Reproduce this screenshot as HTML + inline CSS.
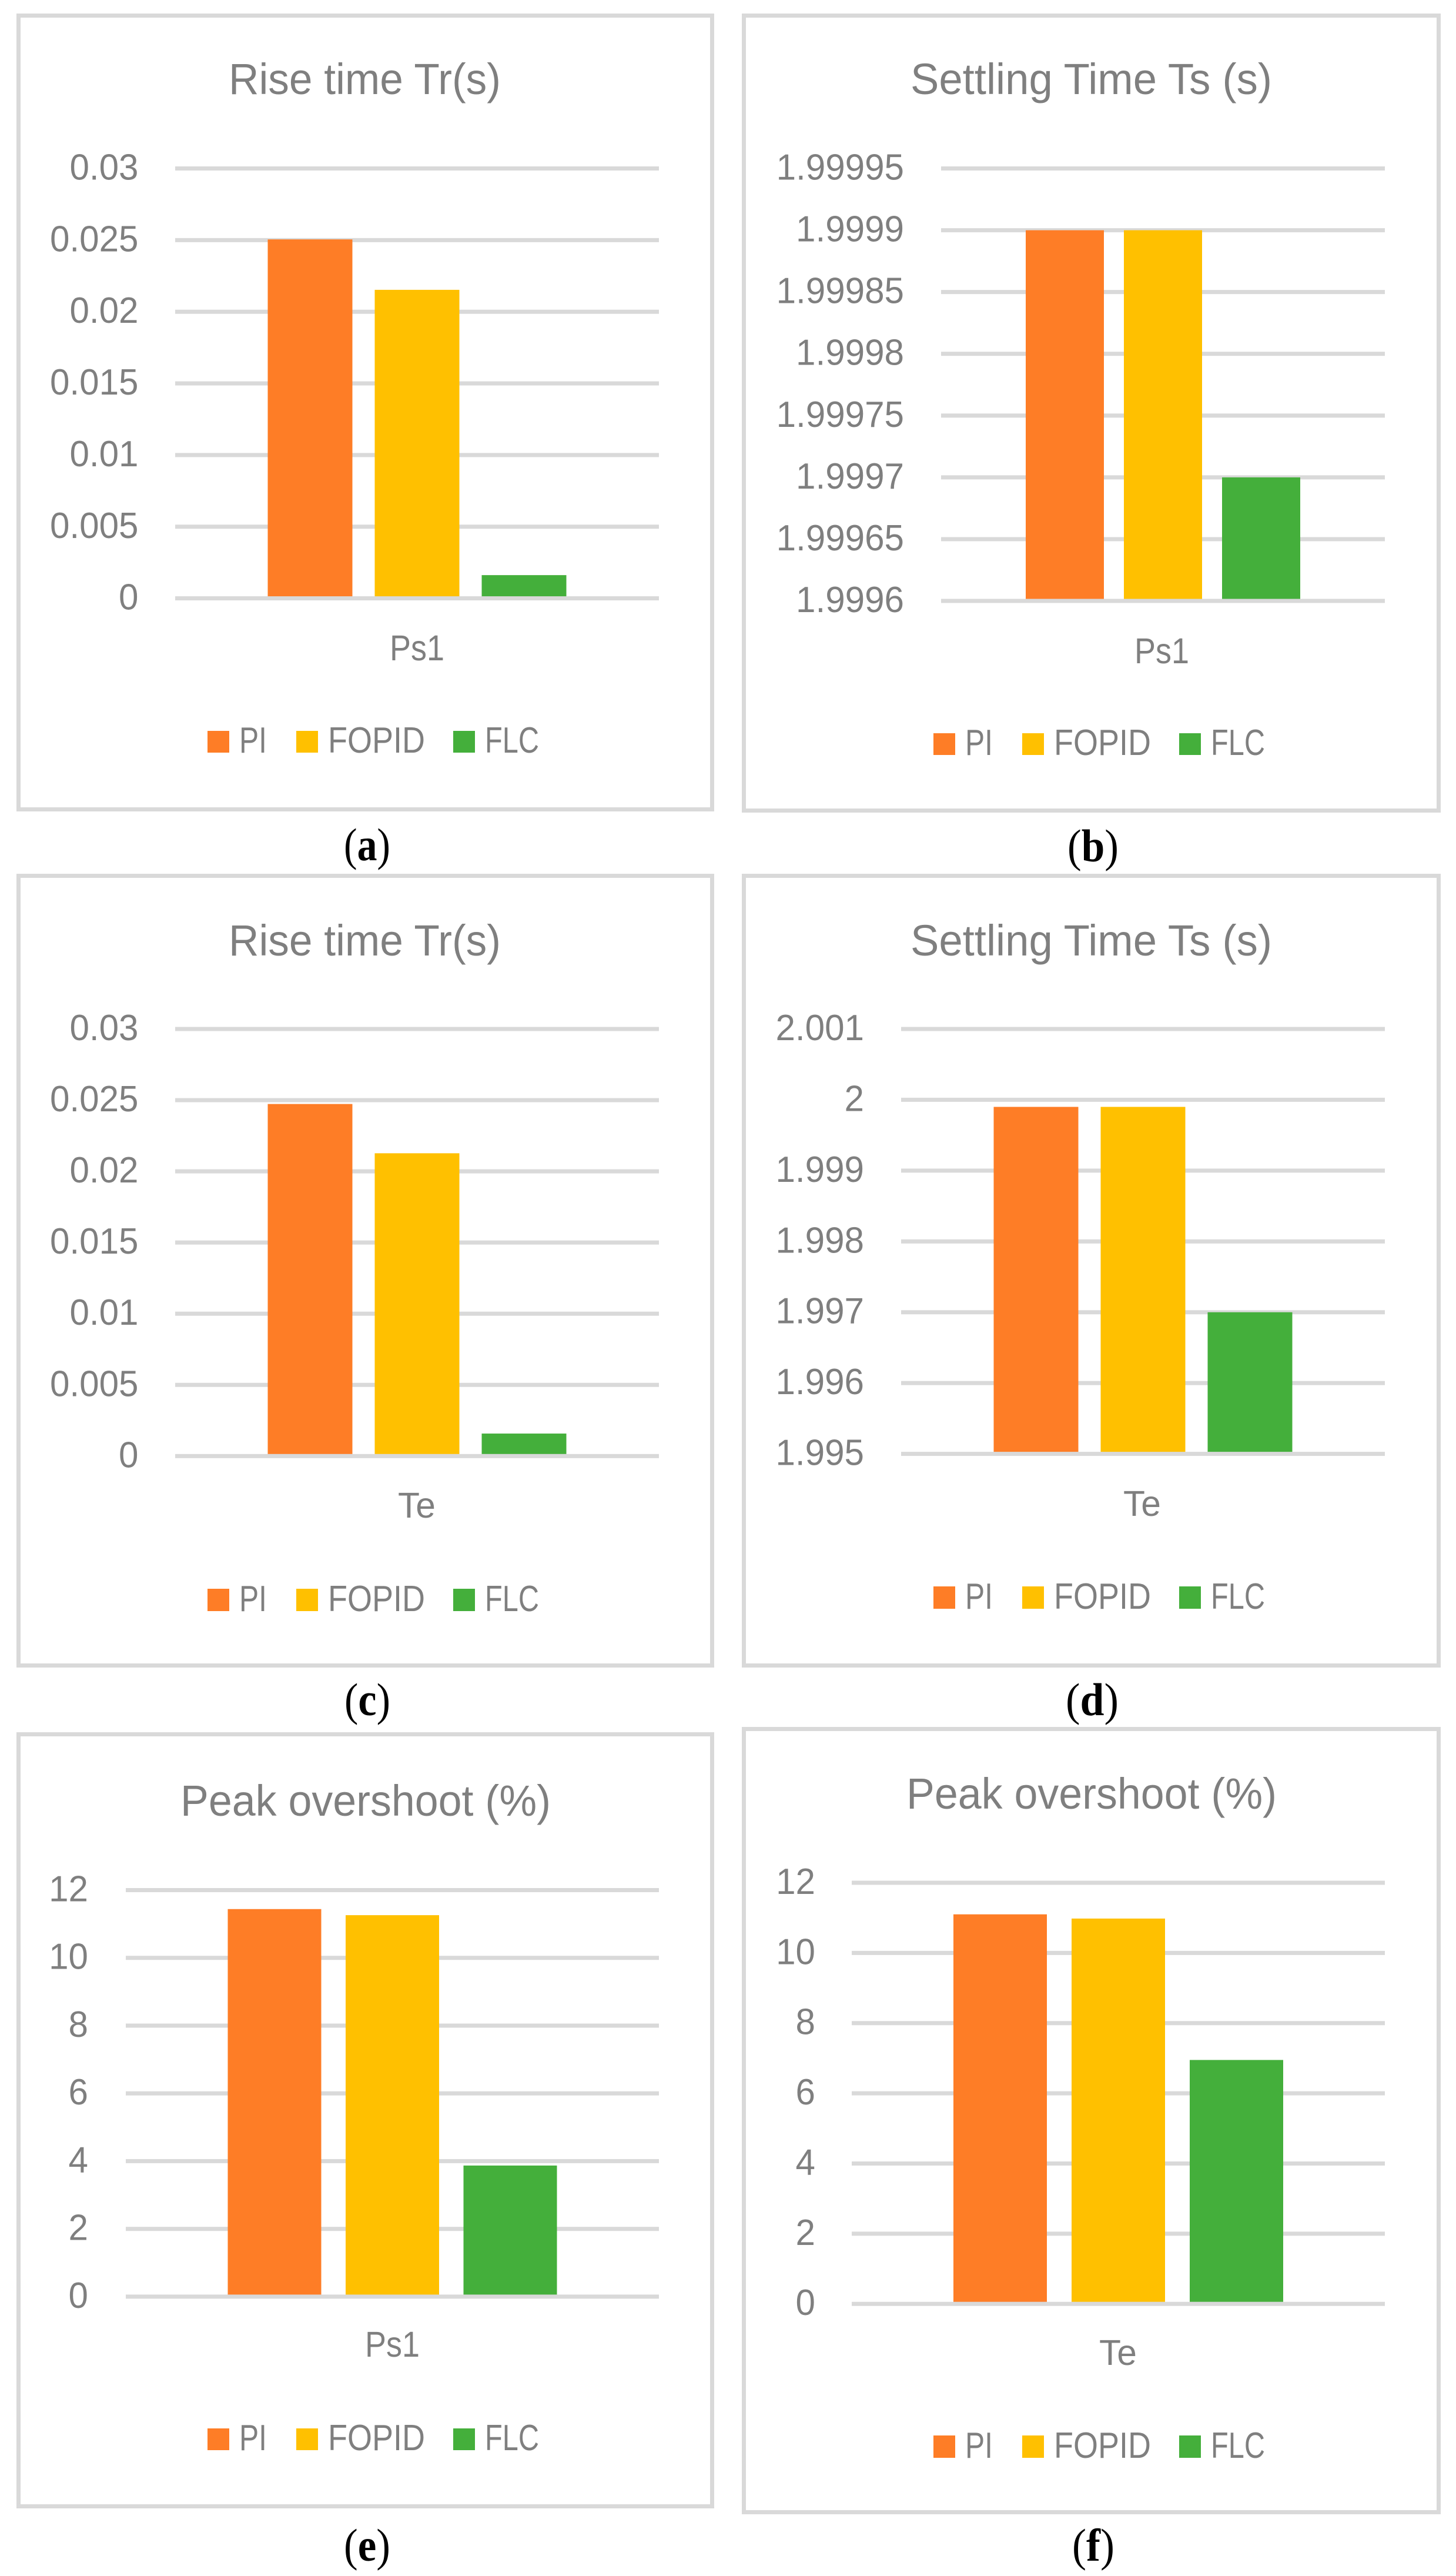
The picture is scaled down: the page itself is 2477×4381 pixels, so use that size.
<!DOCTYPE html>
<html lang="en">
<head>
<meta charset="utf-8">
<title>Controller comparison bar charts</title>
<style>
html,body{margin:0;padding:0;background:#fff;}
svg{display:block;}
text{font-family:"Liberation Sans",sans-serif;fill:#7f7f7f;}
.caption{font-family:"Liberation Serif",serif;fill:#000;font-size:78px;}
.caption .b{font-weight:bold;}
</style>
</head>
<body>
<svg id="figure" xmlns="http://www.w3.org/2000/svg" width="2477" height="4381" viewBox="0 0 2477 4381">
<rect x="0" y="0" width="2477" height="4381" fill="#ffffff"/>
</svg>
<script>
const seriesNames = ['PI', 'FOPID', 'FLC'];

const titleA = 'Rise time Tr(s)';
const categoryA = 'Ps1';
const ticksA = ['0', '0.005', '0.01', '0.015', '0.02', '0.025', '0.03'];
const valuesA = [0.02505, 0.02153, 0.00162];

const titleB = 'Settling Time Ts (s)';
const categoryB = 'Ps1';
const ticksB = ['1.9996', '1.99965', '1.9997', '1.99975', '1.9998', '1.99985', '1.9999', '1.99995'];
const valuesB = [1.9999, 1.9999, 1.9997];

const titleC = 'Rise time Tr(s)';
const categoryC = 'Te';
const ticksC = ['0', '0.005', '0.01', '0.015', '0.02', '0.025', '0.03'];
const valuesC = [0.02473, 0.02127, 0.00158];

const titleD = 'Settling Time Ts (s)';
const categoryD = 'Te';
const ticksD = ['1.995', '1.996', '1.997', '1.998', '1.999', '2', '2.001'];
const valuesD = [1.9999, 1.9999, 1.997];

const titleE = 'Peak overshoot (%)';
const categoryE = 'Ps1';
const ticksE = ['0', '2', '4', '6', '8', '10', '12'];
const valuesE = [11.44, 11.26, 3.87];

const titleF = 'Peak overshoot (%)';
const categoryF = 'Te';
const ticksF = ['0', '2', '4', '6', '8', '10', '12'];
const valuesF = [11.1, 10.98, 6.95];

const GRID = '#d9d9d9';
const COLORS = ['#fe7d26', '#ffc000', '#44af3b'];
const NS = 'http://www.w3.org/2000/svg';
const svg = document.getElementById('figure');

const legendLeft = { sw: [353, 504, 771], swW: 37, tx: [407, 558, 825], tw: [47, 165, 92] };
const legendRight = { sw: [1588, 1739, 2006], swW: 37, tx: [1642, 1793, 2060], tw: [47, 165, 92] };

const charts = [
  { id: 'a', title: titleA, category: categoryA, ticks: ticksA, values: valuesA, legend: legendLeft,
    box: [28, 23, 1215, 1380], plot: [298, 1121, 286.5, 1017.6], barW: 144, gap: 38,
    tickRight: 235.5, titleBox: [389, 463, 160], catBox: [663, 93, 1123], legendY: [1243, 1280],
    caption: ['a', 585, 79, 1463] },
  { id: 'b', title: titleB, category: categoryB, ticks: ticksB, values: valuesB, legend: legendRight,
    box: [1262, 23, 2451, 1382], plot: [1601, 2356, 286.5, 1022], barW: 133, gap: 34,
    tickRight: 1538, titleBox: [1549, 615, 160], catBox: [1930, 93, 1128], legendY: [1247, 1284],
    caption: ['b', 1816, 87, 1465] },
  { id: 'c', title: titleC, category: categoryC, ticks: ticksC, values: valuesC, legend: legendLeft,
    box: [28, 1486, 1215, 2836], plot: [298, 1121, 1750, 2476.3], barW: 144, gap: 38,
    tickRight: 235.5, titleBox: [389, 463, 1625], catBox: [677, 64, 2581], legendY: [2702, 2740],
    caption: ['c', 586, 78, 2917] },
  { id: 'd', title: titleD, category: categoryD, ticks: ticksD, values: valuesD, legend: legendRight,
    box: [1262, 1486, 2451, 2836], plot: [1533, 2356, 1750, 2472.6], barW: 144, gap: 38,
    tickRight: 1470, titleBox: [1549, 615, 1625], catBox: [1911, 64, 2578], legendY: [2698, 2736],
    caption: ['d', 1813, 90, 2917] },
  { id: 'e', title: titleE, category: categoryE, ticks: ticksE, values: valuesE, legend: legendLeft,
    box: [28, 2946, 1215, 4266], plot: [214, 1121, 3214.5, 3905.9], barW: 159, gap: 41.5,
    tickRight: 150, titleBox: [307, 630, 3088], catBox: [621, 93, 4008], legendY: [4130, 4167],
    caption: ['e', 585, 79, 4355] },
  { id: 'f', title: titleF, category: categoryF, ticks: ticksF, values: valuesF, legend: legendRight,
    box: [1262, 2937, 2451, 4276], plot: [1449, 2356, 3202, 3918.2], barW: 159, gap: 42,
    tickRight: 1387, titleBox: [1542, 630, 3076], catBox: [1870, 64, 4022], legendY: [4142, 4180],
    caption: ['f', 1824, 72, 4355] }
];

function mk(parent, tag, attrs, txt) {
  const n = document.createElementNS(NS, tag);
  for (const k in attrs) n.setAttribute(k, attrs[k]);
  if (txt !== undefined) n.textContent = txt;
  parent.appendChild(n);
  return n;
}

charts.forEach(function (c) {
  const tickNums = c.ticks.map(Number);
  const minV = Math.min.apply(null, tickNums);
  const maxV = Math.max.apply(null, tickNums);
  const left = c.plot[0], right = c.plot[1], top = c.plot[2], zero = c.plot[3];
  const yScale = function (v) { return zero - (v - minV) / (maxV - minV) * (zero - top); };
  const groupCenter = (left + right) / 2;
  const n = c.values.length;
  const groupW = n * c.barW + (n - 1) * c.gap;
  const xScale = function (i) { return groupCenter - groupW / 2 + i * (c.barW + c.gap); };

  const g = mk(svg, 'g', {});
  
  

  const frame = mk(g, 'rect', { x: c.box[0] + 3.5, y: c.box[1] + 3.5, width: c.box[2] - c.box[0] - 7, height: c.box[3] - c.box[1] - 7, fill: '#ffffff', stroke: GRID, 'stroke-width': 7 });
  
  

  const title = mk(g, 'text', { x: c.titleBox[0], y: c.titleBox[2], 'font-size': 74, textLength: c.titleBox[1], lengthAdjust: 'spacingAndGlyphs' }, c.title);
  
  

  c.ticks.forEach(function (t, i) {
    if (i === 0) return;
    const y = yScale(Number(t));
    const line = mk(g, 'rect', { x: left, y: y - 3.5, width: right - left, height: 7, fill: GRID });
    
    
  });

  c.values.forEach(function (v, i) {
    const y = yScale(v);
    const bar = mk(g, 'rect', { x: xScale(i), y: y, width: c.barW, height: zero - y, fill: COLORS[i] });
    
    
  });

  const axis = mk(g, 'rect', { x: left, y: zero - 3.5, width: right - left, height: 7, fill: GRID });
  
  

  c.ticks.forEach(function (t) {
    const label = mk(g, 'text', { x: c.tickRight, y: yScale(Number(t)) + 19, 'font-size': 62, 'text-anchor': 'end' }, t);
    label.setAttribute('textLength', label.getComputedTextLength() * 0.97);
    label.setAttribute('lengthAdjust', 'spacingAndGlyphs');
    
    
  });

  const cat = mk(g, 'text', { x: c.catBox[0], y: c.catBox[2], 'font-size': 61, textLength: c.catBox[1], lengthAdjust: 'spacingAndGlyphs' }, c.category);
  
  

  seriesNames.forEach(function (s, i) {
    const entry = mk(g, 'g', {});
    
    
    const sw = mk(entry, 'rect', { x: c.legend.sw[i], y: c.legendY[0], width: c.legend.swW, height: c.legendY[1] - c.legendY[0], fill: COLORS[i] });
    
    
    const tx = mk(entry, 'text', { x: c.legend.tx[i], y: c.legendY[1], 'font-size': 62, textLength: c.legend.tw[i], lengthAdjust: 'spacingAndGlyphs' }, s);
    
    
  });

  const cap = mk(svg, 'text', { class: 'caption', x: c.caption[1], y: c.caption[3], textLength: c.caption[2], lengthAdjust: 'spacingAndGlyphs' });
  
  
  mk(cap, 'tspan', {}, '(');
  mk(cap, 'tspan', { class: 'b' }, c.caption[0]);
  mk(cap, 'tspan', {}, ')');
});
</script>
</body>
</html>
